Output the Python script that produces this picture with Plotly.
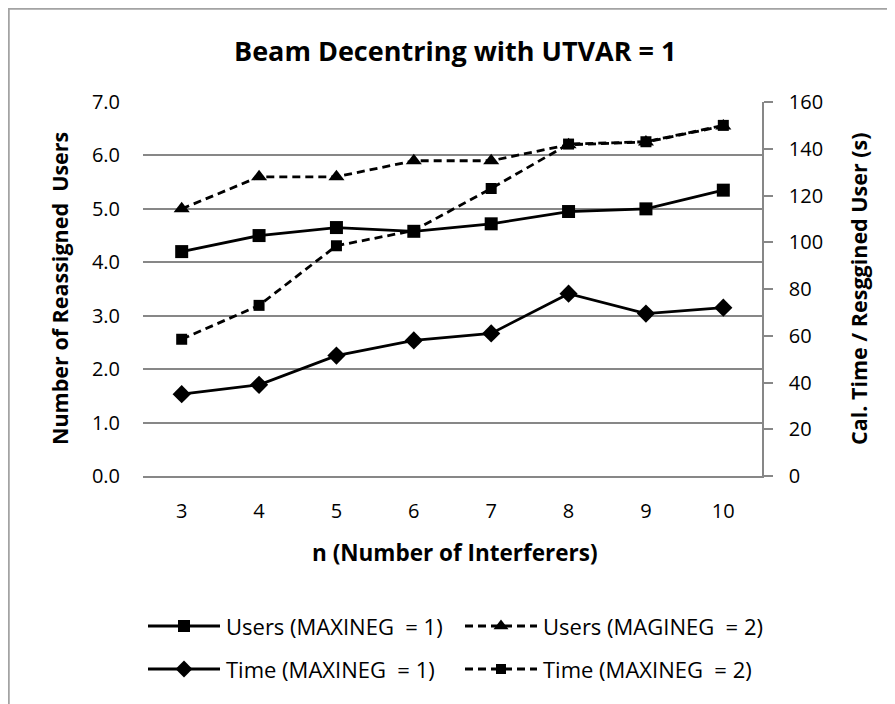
import plotly.graph_objects as go

# ---- data ----
n_values = [3, 4, 5, 6, 7, 8, 9, 10]
users_maxineg1 = [4.2, 4.5, 4.65, 4.58, 4.72, 4.95, 5.0, 5.35]
users_magineg2 = [5.0, 5.6, 5.6, 5.9, 5.9, 6.2, 6.25, 6.55]
time_maxineg1 = [35, 39, 51.5, 58, 61, 78, 69.5, 72]
time_maxineg2 = [58.5, 73, 98.5, 105, 123, 142, 143, 150]

left_ticks = [0, 1, 2, 3, 4, 5, 6, 7]
right_ticks = [0, 20, 40, 60, 80, 100, 120, 140, 160]

legend_labels = ["Users (MAXINEG  = 1)", "Users (MAGINEG  = 2)",
                 "Time (MAXINEG  = 1)", "Time (MAXINEG  = 2)"]

FONT = "'Open Sans', Lato, sans-serif"
GRID = "#878787"

W, H = 895, 704
OFF = 8  # page body margin: screen coords = figure coords + OFF


def fx(sx):
    return sx - OFF


def fy(sy):
    return sy - OFF


# plot area in screen pixels
PL, PR, PT, PB = 143, 762, 102, 476
BOTTOM_AUX = 700  # bottom of auxiliary pixel-space axes (screen)

ML = fx(PL)
MR = W - fx(PR)
MT = fy(PT)
MB = H - fy(BOTTOM_AUX)
PW = W - ML - MR
PH = H - MT - MB
main_dom0 = (BOTTOM_AUX - PB) / PH


def px(sx):  # screen x -> paper
    return (sx - PL) / PW


def py(sy):  # screen y -> paper
    return (BOTTOM_AUX - sy) / PH


LW = 2.8
styles = [
    dict(symbol="square", size=13, dash="solid"),
    dict(symbol="triangle-up", size=14, dash="8px,5px"),
    dict(symbol="diamond", size=14, dash="solid"),
    dict(symbol="square", size=11, dash="8px,5px"),
]

fig = go.Figure()
series = [
    (users_maxineg1, "y"),
    (users_magineg2, "y"),
    (time_maxineg1, "y2"),
    (time_maxineg2, "y2"),
]
for (vals, ax), st, name in zip(series, styles, legend_labels):
    fig.add_trace(go.Scatter(
        x=n_values, y=vals, yaxis=ax, xaxis="x", name=name,
        mode="lines+markers", showlegend=False,
        line=dict(color="black", width=LW, dash=st["dash"]),
        marker=dict(symbol=st["symbol"], size=st["size"], color="black",
                    line=dict(width=0)),
    ))

# ---- custom legend (pixel-space auxiliary axes, screen coords) ----
leg_items = [
    (148, 626, 0), (465, 626, 1),
    (148, 669, 2), (465, 669, 3),
]
sample_len = 72
annotations = []
for x0, yy, idx in leg_items:
    st = styles[idx]
    fig.add_trace(go.Scatter(
        x=[x0, x0 + sample_len], y=[yy, yy],
        xaxis="x3", yaxis="y3", mode="lines", showlegend=False,
        hoverinfo="skip",
        line=dict(color="black", width=LW, dash=st["dash"]),
    ))
    fig.add_trace(go.Scatter(
        x=[x0 + sample_len / 2], y=[yy],
        xaxis="x3", yaxis="y3", mode="markers", showlegend=False,
        hoverinfo="skip",
        marker=dict(symbol=st["symbol"], size=st["size"] - 1,
                    color="black", line=dict(width=0)),
    ))
    annotations.append(dict(
        x=px(x0 + sample_len + 4), y=py(yy), xref="paper", yref="paper",
        text=legend_labels[idx], showarrow=False, xanchor="left",
        yanchor="middle", font=dict(family=FONT, size=22, color="black"),
    ))

# titles
annotations.append(dict(
    x=px(455), y=py(50), xref="paper", yref="paper",
    text="<b>Beam Decentring with UTVAR = 1</b>",
    showarrow=False, xanchor="center", yanchor="middle",
    font=dict(family=FONT, size=27, color="black")))
annotations.append(dict(
    x=px(455), y=py(552), xref="paper", yref="paper",
    text="<b>n (Number of Interferers)</b>",
    showarrow=False, xanchor="center", yanchor="middle",
    font=dict(family=FONT, size=22.5, color="black")))
annotations.append(dict(
    x=px(59), y=py(289), xref="paper", yref="paper",
    text="<b>Number of Reassigned  Users</b>",
    showarrow=False, xanchor="center", yanchor="middle", textangle=-90,
    font=dict(family=FONT, size=21.5, color="black")))
annotations.append(dict(
    x=px(858), y=py(289), xref="paper", yref="paper",
    text="<b>Cal. Time / Resggined User (s)</b>",
    showarrow=False, xanchor="center", yanchor="middle", textangle=-90,
    font=dict(family=FONT, size=21.5, color="black")))

fig.update_layout(
    width=W, height=H,
    margin=dict(l=ML, r=MR, t=MT, b=MB, autoexpand=False),
    paper_bgcolor="white", plot_bgcolor="rgba(0,0,0,0)",
    showlegend=False,
    font=dict(family=FONT, size=20, color="black"),
    xaxis=dict(
        domain=[0, 1], anchor="y", range=[2.5, 10.5],
        tickvals=n_values, ticktext=[str(v) for v in n_values],
        showgrid=False, zeroline=False, showline=True,
        linecolor=GRID, linewidth=1.6, ticks="",
        ticklabelstandoff=16,
        tickfont=dict(family=FONT, size=20, color="black"),
    ),
    yaxis=dict(
        domain=[main_dom0, 1], anchor="x", range=[0, 7],
        tickvals=left_ticks, tickformat=".1f",
        showgrid=True, gridcolor=GRID, gridwidth=1.6,
        zeroline=False, showline=False, ticks="",
        ticklabelstandoff=22,
        tickfont=dict(family=FONT, size=20, color="black"),
    ),
    yaxis2=dict(
        overlaying="y", side="right", anchor="x", range=[0, 160],
        tickvals=right_ticks, showgrid=False, zeroline=False,
        showline=True, linecolor=GRID, linewidth=1.6,
        ticks="outside", ticklen=9, tickcolor=GRID, tickwidth=1.6,
        ticklabelstandoff=12,
        tickfont=dict(family=FONT, size=20, color="black"),
    ),
    xaxis3=dict(domain=[0, 1], anchor="y3", range=[PL, PR],
                visible=False, fixedrange=True),
    yaxis3=dict(domain=[0, 1], anchor="x3", range=[BOTTOM_AUX, PT],
                visible=False, fixedrange=True),
    annotations=annotations,
    shapes=[dict(
        type="rect", xref="paper", yref="paper",
        x0=px(8.5), x1=px(W + 20),
        y0=py(H + 20), y1=py(8.5),
        line=dict(color="#a3a3a3", width=2.5), fillcolor="rgba(0,0,0,0)",
        layer="below",
    )],
)

fig.write_html("out.html")
